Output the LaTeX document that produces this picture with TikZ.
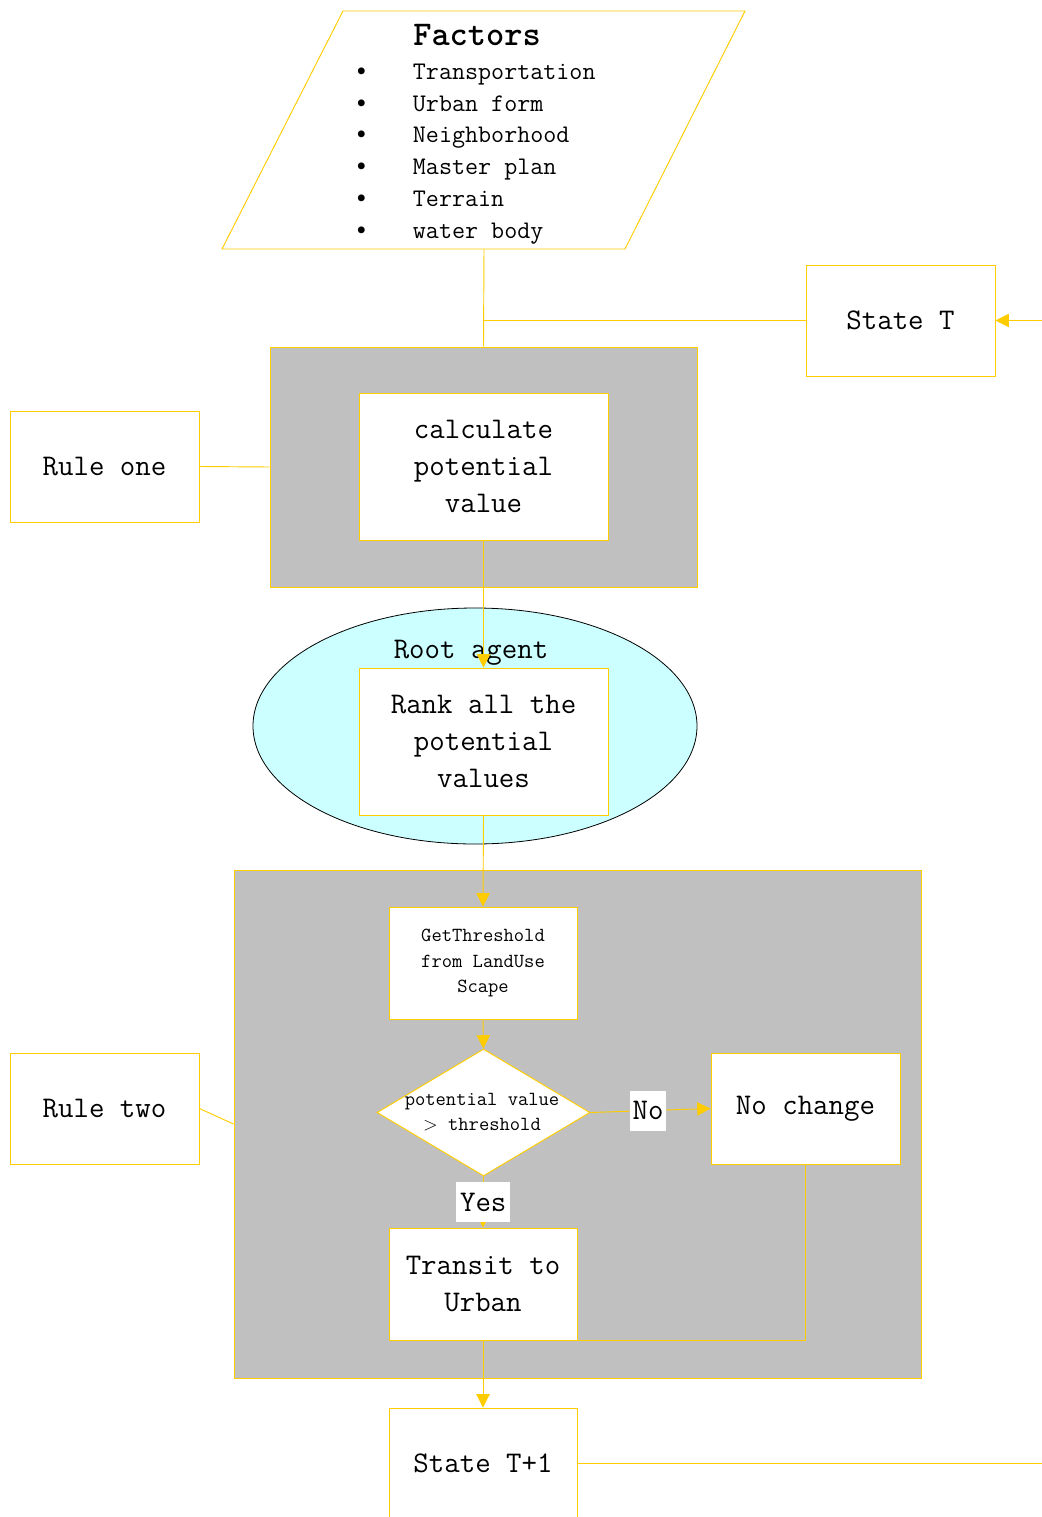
\documentclass[tikz,border=0pt]{standalone}
\usepackage{fontspec}
\usetikzlibrary{arrows.meta,shapes.geometric}
\definecolor{flowyellow}{RGB}{255,204,0}
\definecolor{panelgray}{RGB}{192,192,192}
\definecolor{agentcyan}{RGB}{204,255,255}
\newcommand\flowbig{\ttfamily\fontsize{22.5}{28}\selectfont}
\newcommand\flowsmall{\ttfamily\fontsize{15}{19}\selectfont}
\newcommand\listdot{\makebox[47pt][l]{\smash{\rmfamily\fontsize{23}{23}\selectfont\textbullet}}}
\begin{document}
\begin{tikzpicture}[x=0.75pt,y=-0.75pt,
  line/.style={draw=flowyellow,line width=0.7pt},
  arr/.style={line,-{Triangle[length=10pt,width=10pt]},color=flowyellow},
  box/.style={draw=flowyellow,fill=white,line width=0.7pt,inner sep=0pt,
    align=center,font=\flowbig,text=black},
  widebox/.style={box,minimum width=141.75pt,minimum height=83.25pt},
  midbox/.style={box,minimum width=186.75pt,minimum height=110.25pt},
  smallbox/.style={box,minimum width=141pt,minimum height=84pt},
  panel/.style={draw=flowyellow,fill=panelgray,line width=0.7pt,inner sep=0pt},
  tag/.style={fill=white,inner xsep=2pt,inner ysep=0pt,minimum height=30pt,
    font=\flowbig,text=black}
]
\useasboundingbox (0,0) rectangle (1042,1517);

% grey panels and the agent ellipse
\node[panel,minimum width=320.25pt,minimum height=180pt] (panelA) at (483.5,467) {};
\node[panel,minimum width=515.25pt,minimum height=381pt] (panelB) at (577.5,1124) {};
\node[ellipse,draw=black,fill=agentcyan,line width=0.6pt,inner sep=0pt,
  minimum width=333pt,minimum height=177pt] (agent) at (475,726) {};
\node[font=\flowbig] (agentname) at (471,653) {Root agent};

% input factors
\draw[line] (343,11) -- (745,11) -- (625,249) -- (222,249) -- cycle;
\coordinate (fb) at (484,249);
\node[font=\ttfamily\bfseries\fontsize{26}{30}\selectfont] (ftitle) at (477,35) {Factors};
\node[anchor=west,inner sep=0pt,align=left,font=\ttfamily\fontsize{19}{23.85}\selectfont]
  (flist) at (350,154) {%
  \listdot Transportation\\
  \listdot Urban form\\
  \listdot Neighborhood\\
  \listdot Master plan\\
  \listdot Terrain\\
  \listdot water body};

% boxes
\node[widebox] (stateT) at (900.5,320.5) {State T};
\node[widebox] (rule1) at (104.5,466.5) {Rule one};
\node[midbox] (calc) at (483.5,466.5) {calculate\\potential\\value};
\node[midbox] (rank) at (483.5,741.5) {Rank all the\\potential\\values};
\node[smallbox,font=\flowsmall] (getthr) at (483,963) {GetThreshold\\from LandUse\\Scape};
\node[diamond,draw=flowyellow,fill=white,line width=0.7pt,inner sep=0pt,
  minimum width=159.75pt,minimum height=95.25pt] (dec) at (483.5,1112.5) {};
\node[font=\flowsmall,align=center] (dectext) at (482,1112) {potential value\\$>$ threshold};
\node[widebox] (nochange) at (805.5,1108.5) {No change};
\node[widebox] (rule2) at (104.5,1108.5) {Rule two};
\node[smallbox] (transit) at (483,1284) {Transit to\\Urban};
\node[smallbox,minimum height=83.25pt] (stateT1) at (483,1463.5) {State T+1};
\coordinate (inT) at (1042,320.5);
\coordinate (outT) at (1042,1463.5);

% connectors
\draw[line] (fb) -- (panelA.north);
\draw[line] (stateT.west) -- (stateT.west -| panelA.north);
\draw[arr] (inT) -- (stateT.east);
\draw[line] (rule1.east) -- (panelA.west);
\draw[arr] (calc.south) -- (rank.north);
\draw[arr] (rank.south) -- (getthr.north);
\draw[arr] (getthr.south) -- (dec.north);
\draw[arr] (dec.east) -- (nochange.west) node[tag,pos=0.48] (nolabel) {No};
\draw[arr] (dec.south) -- (transit.north) node[tag,midway,inner xsep=3pt] (yeslabel) {Yes};
\draw[line] (nochange.south) |- (transit.south east);
\draw[line] (rule2.east) -- (panelB.west);
\draw[arr] (transit.south) -- (stateT1.north);
\draw[line] (stateT1.east) -- (outT);
\end{tikzpicture}
\end{document}
